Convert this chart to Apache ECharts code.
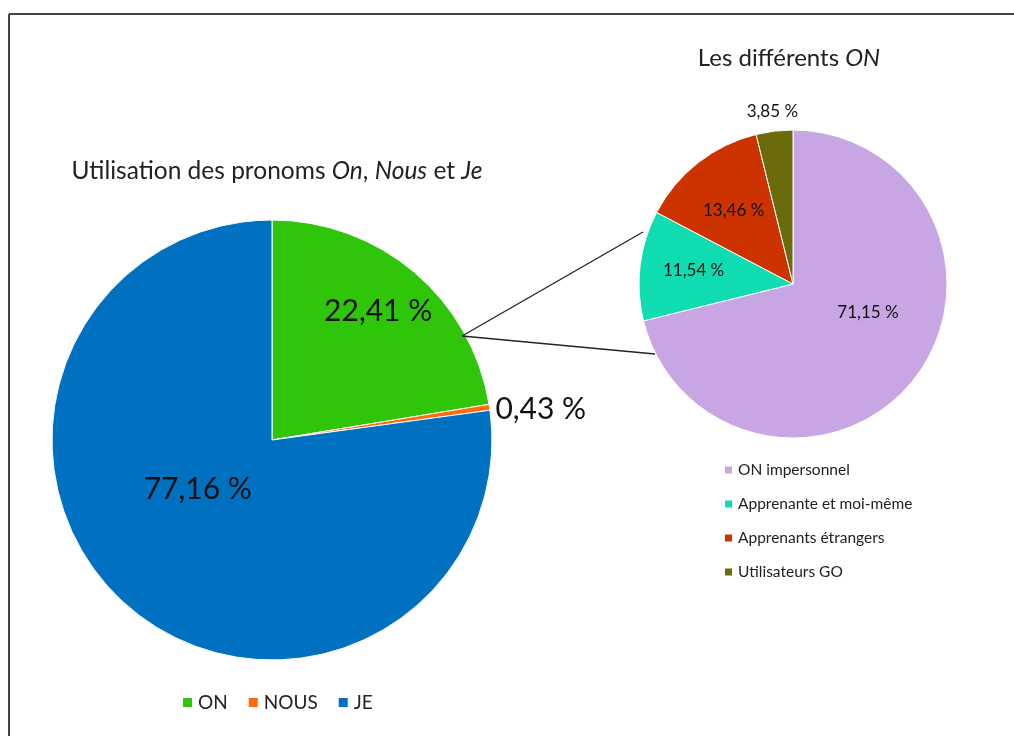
<!DOCTYPE html>
<html>
<head>
<meta charset="utf-8">
<script src="https://cdn.jsdelivr.net/npm/echarts@6/dist/echarts.min.js"></script>
<style>
html,body{margin:0;padding:0;background:#fff;}
#chart{width:1014px;height:736px;}
</style>
</head>
<body>
<div id="chart"></div>
<script>
const mainCategories = ['ON', 'NOUS', 'JE'];
const mainValues = [22.41, 0.43, 77.16];
const mainColors = ['#2fc60a', '#ff6a0a', '#0070c0'];

const onCategories = ['ON impersonnel', 'Apprenante et moi-même', 'Apprenants étrangers', 'Utilisateurs GO'];
const onValues = [71.15, 11.54, 13.46, 3.85];
const onColors = ['#c8a6e4', '#10dcb2', '#cc3300', '#6b6b0c'];

const mainLabelOffsets = [[33, -43], [157, -14], [0, -36]];
const onLabelOffsets = [[12, -21], [-20, -4], [-10, -11], [-11, -93]];

const fmt = v => v.toFixed(2).replace('.', ',') + ' %';
const FONT = 'Lato, "Open Sans", sans-serif';

const chart = echarts.init(document.getElementById('chart'));
chart.setOption({
  animation: false,
  backgroundColor: '#fff',
  textStyle: { fontFamily: FONT },
  title: [
    {
      text: '{n|Utilisation des pronoms }{i|On}{n|, }{i|Nous}{n| et }{i|Je}',
      left: 272, top: 154, textAlign: 'center',
      textStyle: {
        rich: {
          n: { fontFamily: FONT, fontSize: 24.5, color: '#222', fontWeight: 'normal' },
          i: { fontFamily: FONT, fontSize: 24.5, color: '#222', fontStyle: 'italic', fontWeight: 'normal' }
        }
      }
    },
    {
      text: '{n|Les différents }{i|ON}',
      left: 784, top: 41, textAlign: 'center',
      textStyle: {
        rich: {
          n: { fontFamily: FONT, fontSize: 24, color: '#222', fontWeight: 'normal' },
          i: { fontFamily: FONT, fontSize: 24, color: '#222', fontStyle: 'italic', fontWeight: 'normal' }
        }
      }
    }
  ],
  legend: [
    {
      data: mainCategories,
      orient: 'horizontal',
      left: 176, top: 688,
      icon: 'rect', itemWidth: 11, itemHeight: 11, itemGap: 19,
      textStyle: { fontFamily: FONT, fontSize: 19, color: '#222' }
    },
    {
      data: onCategories,
      orient: 'vertical',
      left: 718, top: 457,
      icon: 'rect', itemWidth: 9, itemHeight: 9, itemGap: 18,
      textStyle: { fontFamily: FONT, fontSize: 15.5, color: '#222' }
    }
  ],
  series: [
    {
      type: 'pie',
      center: [272, 440], radius: 220,
      startAngle: 90, clockwise: true,
      itemStyle: { borderColor: '#fff', borderWidth: 1 },
      label: { show: true, position: 'inside', fontFamily: FONT, fontSize: 30, color: '#111' },
      labelLine: { show: false },
      emphasis: { disabled: true },
      data: mainCategories.map((n, i) => ({
        name: n, value: mainValues[i],
        itemStyle: { color: mainColors[i] },
        label: { formatter: fmt(mainValues[i]), offset: mainLabelOffsets[i] }
      }))
    },
    {
      type: 'pie',
      center: [793, 284], radius: 154,
      startAngle: 90, clockwise: true,
      itemStyle: { borderColor: '#fff', borderWidth: 1 },
      label: { show: true, position: 'inside', fontFamily: FONT, fontSize: 17, color: '#111' },
      labelLine: { show: false },
      emphasis: { disabled: true },
      data: onCategories.map((n, i) => ({
        name: n, value: onValues[i],
        itemStyle: { color: onColors[i] },
        label: { formatter: fmt(onValues[i]), offset: onLabelOffsets[i] }
      }))
    }
  ],
  graphic: [
    { type: 'line', shape: { x1: 9, y1: 14, x2: 1014, y2: 14 }, style: { stroke: '#444', lineWidth: 2 } },
    { type: 'line', shape: { x1: 9, y1: 14, x2: 9, y2: 736 }, style: { stroke: '#444', lineWidth: 2 } },
    { type: 'line', z: 10, shape: { x1: 462, y1: 336, x2: 643, y2: 232 }, style: { stroke: '#222', lineWidth: 1.3 } },
    { type: 'line', z: 10, shape: { x1: 462, y1: 336, x2: 655, y2: 354 }, style: { stroke: '#222', lineWidth: 1.3 } }
  ]
});
</script>
</body>
</html>
